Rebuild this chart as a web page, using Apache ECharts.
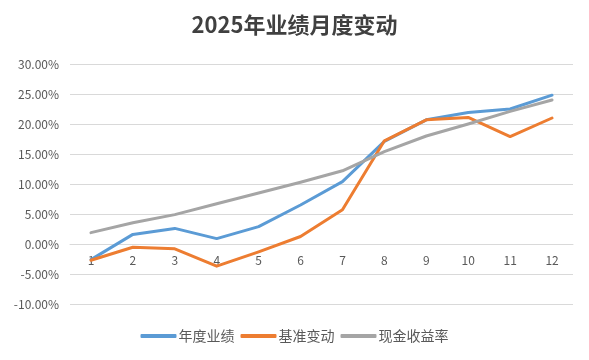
<!DOCTYPE html>
<html><head><meta charset="utf-8">
<script src="https://cdn.jsdelivr.net/npm/echarts@6/dist/echarts.min.js"></script>
<style>html,body{margin:0;padding:0;background:#fff}#c{width:589px;height:360px}</style>
</head><body><div id="c"></div>
<script>
const categories = ['1','2','3','4','5','6','7','8','9','10','11','12'];
const annualPerf = [-2.6, 1.6, 2.6, 0.9, 2.9, 6.5, 10.4, 17.1, 20.7, 21.9, 22.5, 24.8];
const benchmark = [-2.7, -0.55, -0.8, -3.7, -1.3, 1.25, 5.7, 17.2, 20.7, 21.1, 17.9, 21.0];
const cashYield = [1.9, 3.55, 4.9, 6.7, 8.5, 10.3, 12.2, 15.4, 18.0, 20.0, 22.1, 24.0];
const seriesNames = ['年度业绩', '基准变动', '现金收益率'];

const chart = echarts.init(document.getElementById('c'));
const font = '"Noto Sans CJK SC", "Noto Sans", sans-serif';
function mk(name, data, color) {
  return {name, type:'line', data, symbol:'none', smooth:false, z:3,
    lineStyle:{width:3, color, cap:'round', join:'round'}, itemStyle:{color}};
}
chart.setOption({
  animation:false,
  textStyle:{fontFamily:font},
  title:{text:'2025年业绩月度变动', left:'center', top:9,
    textStyle:{fontSize:22, fontWeight:'bold', color:'#404040', fontFamily:font}},
  legend:{bottom:12, left:'center', itemWidth:36, itemHeight:4, icon:'roundRect', itemGap:6,
    textStyle:{fontSize:14, color:'#595959', padding:[0,0,0,-3]}},
  grid:{left:70, right:16, top:64, bottom:56},
  xAxis:{type:'category', data:categories, boundaryGap:true, offset:-60,
    axisLine:{onZero:false, lineStyle:{color:'#d9d9d9'}}, axisTick:{show:false},
    axisLabel:{color:'#595959', fontSize:12, margin:10}},
  yAxis:{type:'value', min:-10, max:30, interval:5,
    axisLine:{show:false}, axisTick:{show:false},
    splitLine:{lineStyle:{color:'#d9d9d9'}},
    axisLabel:{color:'#595959', fontSize:12, margin:11, formatter:v=>v.toFixed(2)+'%'}},
  series:[mk(seriesNames[0], annualPerf, '#5B9BD5'), mk(seriesNames[1], benchmark, '#ED7D31'), mk(seriesNames[2], cashYield, '#A5A5A5')]
});
</script></body></html>
